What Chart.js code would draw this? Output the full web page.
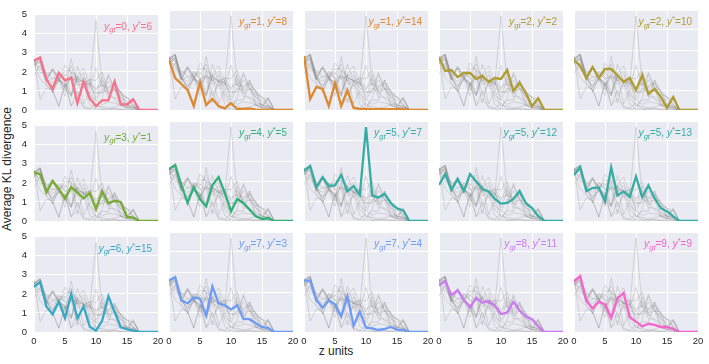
<!DOCTYPE html>
<html>
<head>
<meta charset="utf-8">
<script src="https://cdn.jsdelivr.net/npm/chart.js@4.4.0/dist/chart.umd.min.js"></script>
<style>
  body { margin: 0; background: #fff; width: 709px; height: 364px; position: relative; overflow: hidden;
         font-family: "Liberation Sans", Arial, sans-serif; color: #262626; }
  canvas { position: absolute; }
  #ylabel { position: absolute; left: -93px; top: 162px; width: 200px; text-align: center;
            font-size: 12px; transform: rotate(-90deg); }
  #xlabel { position: absolute; left: 286px; top: 344px; width: 100px; text-align: center; font-size: 12px; }
</style>
</head>
<body>
<div id="ylabel">Average KL divergence</div>
<div id="xlabel">z units</div>
<script>
// z units along the x axis
const zUnits = [0, 1, 2, 3, 4, 5, 6, 7, 8, 9, 10, 11, 12, 13, 14, 15, 16, 17, 18, 19, 20];
const xTicks = [0, 5, 10, 15, 20];
const yTicks = [0, 1, 2, 3, 4, 5];

// panel labels: ground truth class and target class
const yGt = [0, 1, 1, 2, 2, 3, 4, 5, 5, 5, 6, 7, 7, 8, 9];
const yStar = [6, 8, 14, 2, 10, 1, 5, 7, 12, 13, 15, 3, 4, 11, 9];

// average KL divergence per z unit, one array per panel
const kl_0_6 = [2.6, 2.75, 1.6, 1.1, 1.95, 1.55, 1.7, 0.35, 1.5, 0.6, 0.2, 0.5, 0.5, 1.5, 0.3, 0.3, 0.55, 0, 0, 0, 0];
const kl_1_8 = [2.5, 1.6, 1.3, 1.0, 0.2, 1.4, 0.25, 0.55, 0.2, 0.08, 0.35, 0.05, 0.05, 0.08, 0.02, 0, 0, 0, 0, 0, 0];
const kl_1_14 = [2.7, 0.55, 1.15, 1.05, 0.2, 1.35, 0.2, 1.0, 0.1, 0.05, 0.05, 0.04, 0.04, 0.04, 0.04, 0.04, 0.04, 0, 0, 0, 0];
const kl_2_2 = [2.65, 1.95, 2.0, 1.65, 1.85, 1.85, 1.55, 1.7, 1.4, 1.6, 1.55, 2.0, 0.95, 1.35, 0.85, 0.18, 0.58, 0, 0, 0, 0];
const kl_2_10 = [2.5, 2.2, 1.6, 2.15, 1.6, 2.05, 2.05, 1.75, 1.4, 1.6, 1.0, 1.75, 0.8, 1.05, 0.65, 0.1, 0.65, 0, 0, 0, 0];
const kl_3_1 = [2.55, 2.45, 1.5, 2.1, 1.68, 1.18, 1.78, 1.5, 1.18, 1.48, 0.63, 1.55, 0.93, 1.06, 1.0, 0.23, 0.18, 0, 0, 0, 0];
const kl_4_5 = [2.6, 2.8, 1.8, 0.9, 1.7, 1.1, 0.73, 1.8, 2.2, 1.4, 0.48, 1.1, 0.9, 0.57, 0.23, 0.1, 0.15, 0, 0, 0, 0];
const kl_5_7 = [2.5, 2.75, 1.7, 2.2, 1.75, 1.78, 2.3, 1.48, 1.75, 1.3, 4.7, 1.27, 1.18, 1.36, 0.9, 0.63, 0.53, 0, 0, 0, 0];
const kl_5_12 = [1.8, 2.35, 1.55, 2.1, 1.48, 2.35, 1.98, 1.6, 1.48, 1.1, 0.87, 0.9, 1.1, 1.5, 0.9, 0.65, 0.25, 0, 0, 0, 0];
const kl_5_13 = [2.3, 2.7, 1.5, 1.65, 1.68, 0.98, 2.68, 1.27, 1.48, 1.2, 2.23, 1.2, 1.77, 1.15, 0.65, 0.48, 0.23, 0, 0, 0, 0];
const kl_6_15 = [2.38, 2.62, 1.34, 0.93, 1.59, 0.72, 2.0, 0.72, 1.34, 0.28, 0.07, 0.6, 1.88, 1.05, 0.25, 0.15, 0.07, 0, 0, 0, 0];
const kl_7_3 = [2.57, 2.74, 1.59, 1.43, 1.72, 1.67, 0.82, 2.28, 1.43, 1.34, 1.13, 1.34, 0.66, 0.64, 0.44, 0.25, 0.2, 0, 0, 0, 0];
const kl_7_4 = [2.57, 2.57, 1.59, 1.23, 1.59, 1.39, 0.77, 1.79, 0.31, 1.02, 0.22, 0.18, 0.1, 0.15, 0.25, 0.12, 0.1, 0, 0, 0, 0];
const kl_8_11 = [2.33, 2.54, 1.84, 2.08, 1.62, 1.23, 1.7, 1.46, 1.56, 1.31, 0.9, 0.97, 1.51, 1.07, 0.77, 0.64, 0.3, 0, 0, 0, 0];
const kl_9_9 = [2.52, 2.79, 1.56, 1.18, 1.51, 1.39, 0.69, 1.67, 1.95, 0.74, 0.52, 0.28, 0.41, 0.36, 0.25, 0.25, 0.15, 0, 0, 0, 0];

const allSeries = [kl_0_6, kl_1_8, kl_1_14, kl_2_2, kl_2_10, kl_3_1, kl_4_5, kl_5_7,
                   kl_5_12, kl_5_13, kl_6_15, kl_7_3, kl_7_4, kl_8_11, kl_9_9];

// husl palette, one colour per ground truth class
const palette = ['#f77189', '#dc8932', '#ae9d31', '#77ab31', '#33b07a',
                 '#36ada4', '#38a9c5', '#6e9bf4', '#cc7af4', '#f565cc'];

const plotLeft = [34, 169, 304, 439, 574];
const plotTop = [10, 121, 232];
const plotW = 124, plotH = 100;
const padL = 22, padR = 10, padT = 8, padB = 18;
const FONT = '"Liberation Sans", Arial, sans-serif';

const panelBackground = {
  id: 'panelBackground',
  beforeDraw(chart) {
    const a = chart.chartArea;
    const ctx = chart.ctx;
    ctx.save();
    ctx.fillStyle = '#eaeaf2';
    ctx.fillRect(a.left, a.top, a.right - a.left, a.bottom - a.top);
    ctx.restore();
  }
};

// "y_gt=0, y*=6" in the top right corner
const panelTitle = {
  id: 'panelTitle',
  afterDatasetsDraw(chart, args, opts) {
    const ctx = chart.ctx;
    const parts = [
      { t: 'y', f: 'italic 10.5px ' + FONT, dy: 0 },
      { t: 'gt', f: 'italic 7.5px ' + FONT, dy: 2.5 },
      { t: '=' + opts.gt + ', ', f: '10px ' + FONT, dy: 0 },
      { t: 'y', f: 'italic 10.5px ' + FONT, dy: 0 },
      { t: '*', f: '7.5px ' + FONT, dy: -4 },
      { t: '=' + opts.star, f: '10px ' + FONT, dy: 0 }
    ];
    ctx.save();
    let total = 0;
    parts.forEach(p => { ctx.font = p.f; p.w = ctx.measureText(p.t).width; total += p.w; });
    let x = chart.chartArea.right - 6 - total;
    const base = chart.chartArea.top + 15;
    ctx.fillStyle = opts.color;
    ctx.textBaseline = 'alphabetic';
    parts.forEach(p => {
      ctx.font = p.f;
      ctx.fillText(p.t, x, base + p.dy);
      x += p.w;
    });
    ctx.restore();
  }
};

function makePanel(i) {
  const row = Math.floor(i / 5);
  const col = i % 5;
  const canvas = document.createElement('canvas');
  canvas.width = plotW + padL + padR;
  canvas.height = plotH + padT + padB;
  canvas.style.left = (plotLeft[col] - padL) + 'px';
  canvas.style.top = (plotTop[row] - padT) + 'px';
  document.body.appendChild(canvas);

  const color = palette[yGt[i]];
  const datasets = [{
    data: allSeries[i],
    borderColor: color,
    borderWidth: 2.3,
    pointRadius: 0,
    order: 0
  }];
  allSeries.forEach(s => {
    datasets.push({
      data: s,
      borderColor: 'rgba(130, 130, 130, 0.45)',
      borderWidth: 0.6,
      pointRadius: 0,
      order: 1
    });
  });

  new Chart(canvas.getContext('2d'), {
    type: 'line',
    data: { labels: zUnits, datasets: datasets },
    options: {
      responsive: false,
      animation: false,
      events: [],
      layout: { padding: { top: padT, right: padR, left: 0, bottom: 0 } },
      plugins: {
        legend: { display: false },
        tooltip: { enabled: false },
        panelTitle: { gt: yGt[i], star: yStar[i], color: color }
      },
      scales: {
        x: {
          type: 'linear', min: 0, max: 20,
          afterBuildTicks: s => { s.ticks = xTicks.map(v => ({ value: v })); },
          afterFit: s => { s.height = padB; },
          ticks: { display: row === 2, padding: 4, color: '#262626', font: { family: FONT, size: 9.5 } },
          grid: { color: '#ffffff', lineWidth: 1, drawTicks: false },
          border: { display: false }
        },
        y: {
          min: 0, max: 5,
          afterBuildTicks: s => { s.ticks = yTicks.map(v => ({ value: v })); },
          afterFit: s => { s.width = padL; },
          ticks: { display: col === 0, padding: 7, color: '#262626', font: { family: FONT, size: 9.5 } },
          grid: { color: '#ffffff', lineWidth: 1, drawTicks: false },
          border: { display: false }
        }
      }
    },
    plugins: [panelBackground, panelTitle]
  });
}

for (let i = 0; i < allSeries.length; i++) {
  makePanel(i);
}
</script>
</body>
</html>
